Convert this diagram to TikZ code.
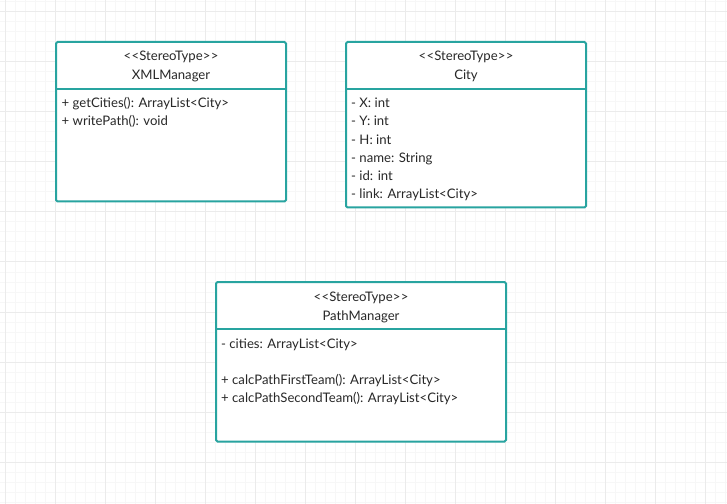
\documentclass[tikz,border=0pt]{standalone}
\usepackage{fontspec}
\setmainfont{Lato}
\definecolor{seablue}{RGB}{40, 164, 160}
\definecolor{gridmajor}{RGB}{235, 235, 235}
\definecolor{gridminor}{RGB}{247, 247, 247}
\definecolor{inkgray}{RGB}{40, 40, 40}

\tikzset{
  classbox/.style={seablue, line width=2bp, fill=white, rounded corners=1.5bp},
  headtext/.style={anchor=base, inkgray, inner sep=0pt, font=\fontsize{13.2}{15}\selectfont},
  membertext/.style={anchor=base west, inkgray, inner sep=0pt, font=\fontsize{13.2}{15}\selectfont},
}
\newcommand{\stereotag}{<\kern0.5bp<StereoType>\kern0.5bp>}

\begin{document}
\begin{tikzpicture}[x=1bp, y=-1bp]
            % Frame to fix the page size:
            \useasboundingbox[fill=white]                                     (0, 0) rectangle (727, 504);
            % Background grid
            \foreach \gx in {5, 15, ..., 725} \draw[gridminor, line width=1bp] (\gx, 0) -- (\gx, 504);
            \foreach \gy in {2, 12, ..., 502} \draw[gridminor, line width=1bp] (0, \gy) -- (727, \gy);
            \foreach \gx in {5, 55, ..., 705} \draw[gridmajor, line width=1bp] (\gx, 0) -- (\gx, 504);
            \foreach \gy in {12, 62, ..., 462} \draw[gridmajor, line width=1bp] (0, \gy) -- (727, \gy);
            % XMLManager
            \draw[classbox]                                                   ( 56, 42) rectangle (286, 201.5);
            \draw[seablue, line width=2bp]                                    ( 56, 89) -- (286, 89);
            \node[headtext]   (xmlStereo) at (171,  61) {\stereotag};
            \node[headtext]   (xmlName)   at (171,  80) {XMLManager};
            \node[membertext] (xmlGet)    at (61.5, 107.5) {+ getCities(): ArrayList<City>};
            \node[membertext] (xmlWrite)  at (61.5, 125.8) {+ writePath(): void};
            % City
            \draw[classbox]                                                   (346, 42) rectangle (586, 207.5);
            \draw[seablue, line width=2bp]                                    (346, 89) -- (586, 89);
            \node[headtext]   (cityStereo) at (466,  61) {\stereotag};
            \node[headtext]   (cityName)   at (466,  80) {City};
            \node[membertext] (cityX)      at (351, 107.8) {- X: int};
            \node[membertext] (cityY)      at (351, 126.0) {- Y: int};
            \node[membertext] (cityH)      at (351, 144.2) {- H: int};
            \node[membertext] (cityNm)     at (351, 162.4) {- name: String};
            \node[membertext] (cityId)     at (351, 180.6) {- id: int};
            \node[membertext] (cityLink)   at (351, 198.8) {- link: ArrayList<City>};
            % PathManager
            \draw[classbox]                                                   (216, 282) rectangle (506, 441.5);
            \draw[seablue, line width=2bp]                                    (216, 329) -- (506, 329);
            \node[headtext]   (pathStereo) at (361, 301) {\stereotag};
            \node[headtext]   (pathName)   at (361, 320) {PathManager};
            \node[membertext] (pathCities) at (221, 348) {- cities: ArrayList<City>};
            \node[membertext] (pathFirst)  at (221, 384) {+ calcPathFirstTeam(): ArrayList<City>};
            \node[membertext] (pathSecond) at (221, 402.5) {+ calcPathSecondTeam(): ArrayList<City>};
        \end{tikzpicture}
\end{document}
